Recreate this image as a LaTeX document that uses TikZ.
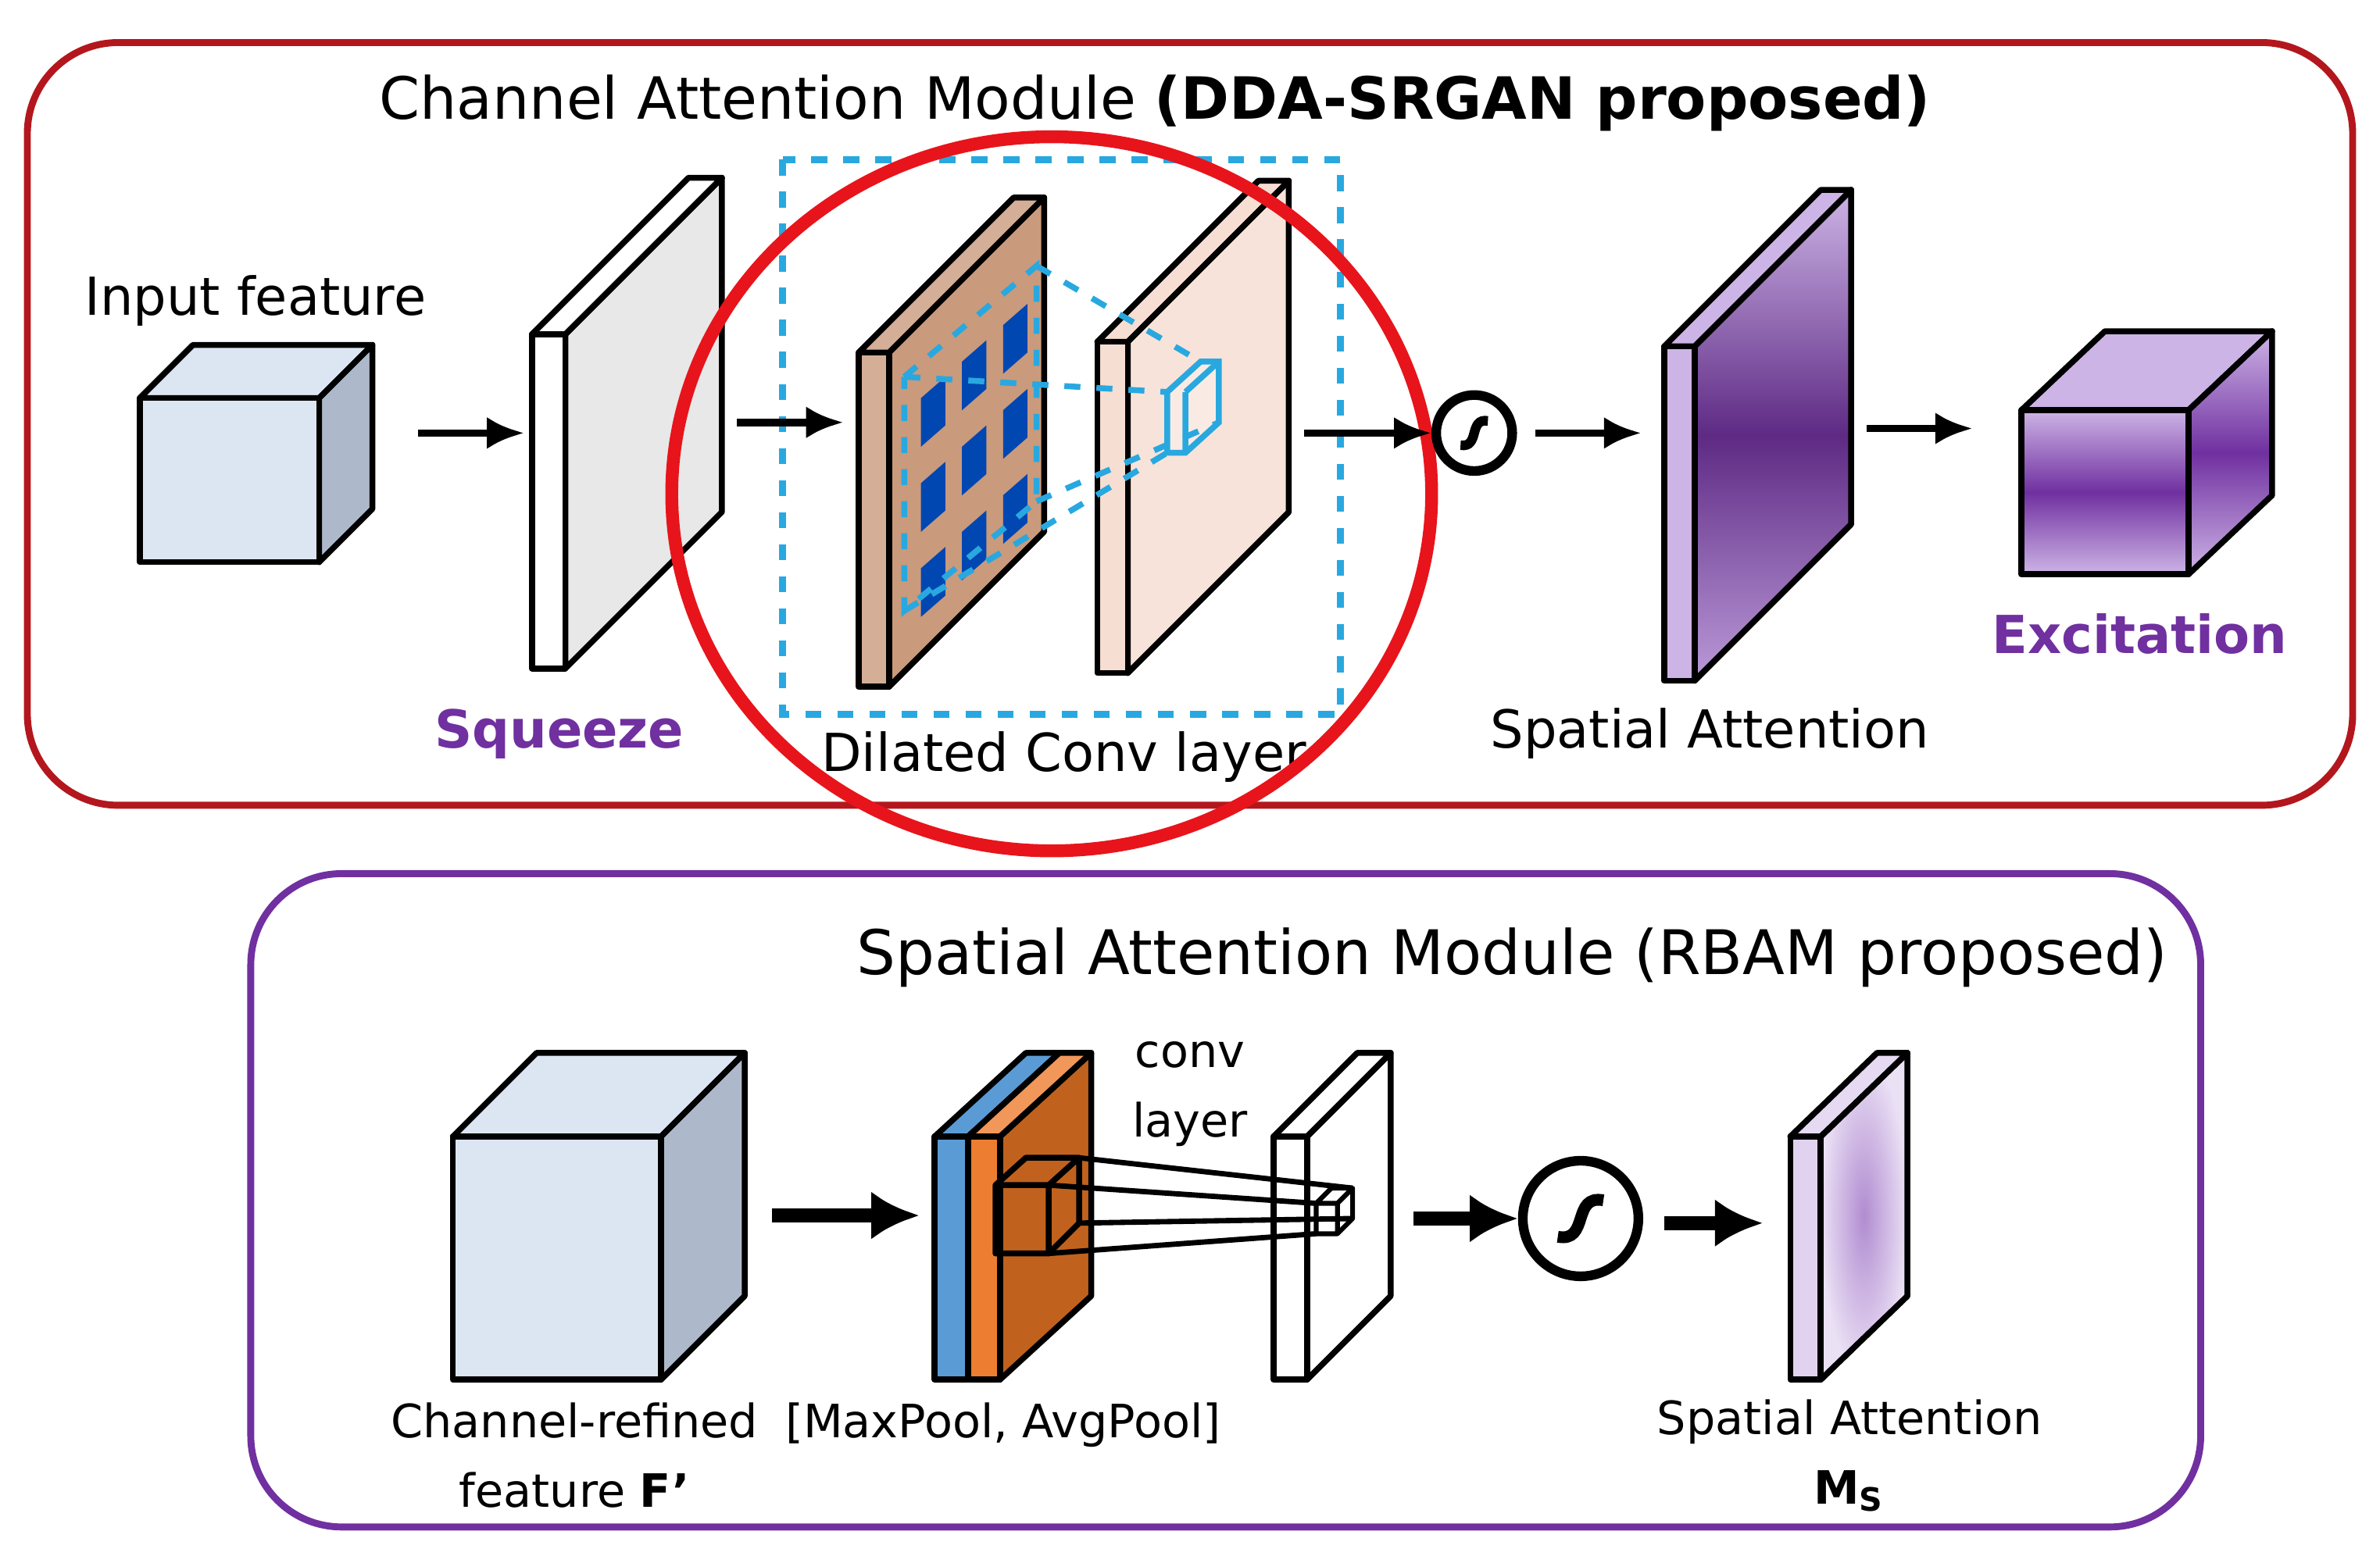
\documentclass[tikz,border=0pt]{standalone}
\usepackage{fontspec}
\setmainfont{DejaVu Sans}
\usepackage{xcolor}
\usetikzlibrary{arrows.meta,positioning,calc}
\definecolor{camred}{HTML}{B3171D}
\definecolor{hired}{HTML}{E8141B}
\definecolor{sampurple}{HTML}{7030A0}
\definecolor{dilblue}{HTML}{29A8E0}
\definecolor{cubeblue}{HTML}{DCE6F2}
\definecolor{cubeside}{HTML}{ADB9CA}
\definecolor{dilbrown}{HTML}{C99A7C}
\definecolor{dilpink}{HTML}{F6DED2}
\definecolor{poolblue}{HTML}{5B9BD5}
\definecolor{poolorange}{HTML}{ED7D31}
\definecolor{poolbrown}{HTML}{C0621E}
\definecolor{lilac}{HTML}{CDB4E6}
\definecolor{deepviolet}{HTML}{5E2A84}

% cube: name, x, ytop, width, height, depth, front, side, top
\newcommand{\featcube}[9]{%
  \draw[solid face, fill=#9] (#2,#3) -- ++(#6,-#6) -- ++(#4,0) -- ++(-#6,#6) -- cycle;
  \draw[solid face, fill=#8] (#2+#4,#3) -- ++(#6,-#6) -- ++(0,#5) -- ++(-#6,#6) -- cycle;
  \draw[solid face, fill=#7] (#2,#3) rectangle ++(#4,#5);
  \coordinate (#1-w) at (#2,#3+#5/2);
  \coordinate (#1-e) at (#2+#4+#6/2,#3+#5/2);
}
% slab: name, x, ytop, strip, height, depth, front, side
\newcommand{\featslab}[8]{%
  \draw[solid face, fill=#8] (#2+#4,#3) -- ++(#6,-#6) -- ++(0,#5) -- ++(-#6,#6) -- cycle;
  \draw[solid face, fill=#7] (#2,#3) -- ++(#6,-#6) -- ++(#4,0) -- ++(-#6,#6) -- cycle;
  \draw[solid face, fill=#7] (#2,#3) rectangle ++(#4,#5);
  \coordinate (#1-w) at (#2,#3+#5/2);
  \coordinate (#1-e) at (#2+#4+#6,#3+#5/2-#6/2);
}

\begin{document}
\begin{tikzpicture}[
    x=0.01cm, y=-0.01cm,
    solid face/.style={draw=black, line width=1.1pt, line join=round},
    flow/.style={-{Latex[length=7pt,width=6pt]}, line width=1.4pt},
    thick flow/.style={-{Latex[length=9pt,width=9pt]}, line width=2.6pt},
    label/.style={font=\fontsize{9.8}{11}\selectfont, inner sep=0pt},
    small label/.style={font=\fontsize{8.6}{10}\selectfont, inner sep=0pt},
    title/.style={font=\fontsize{10.9}{12}\selectfont, inner sep=0pt},
    keyword/.style={label, font=\fontsize{9.8}{11}\selectfont\bfseries, text=sampurple},
    sigmoid/.style={circle, draw=black, line width=1.8pt, minimum size=#1, inner sep=0pt},
  ]
  \useasboundingbox (0,0) rectangle (1566,1024);

  % channel attention module
  \draw[camred, line width=1.3pt, rounded corners=17pt] (18,28) rectangle (1548,530);
  \node[title] (camtitle) at (760,68) {Channel Attention Module \textbf{(DDA-SRGAN proposed)}};

  \featcube{inp}{92}{262}{118}{108}{35}{cubeblue}{cubeside}{cubeblue}
  \node[label] (inplabel) at (168,198) {Input feature};

  \featslab{sqz}{350}{220}{22}{220}{103}{white}{gray!18}
  \node[keyword] (sqzlabel) at (368,483) {Squeeze};

  \draw[dilblue, line width=1.3pt, dashed] (515,105) rectangle (882,470);
  \featslab{dil}{565}{232}{20}{220}{102}{dilbrown!80}{dilbrown}
  \foreach \r in {0,1,2}
    \foreach \c in {0,1,2}
      \fill[fill=blue!60!cyan!70!black]
        (606+\c*27,262+\r*56-\c*24) -- ++(16,-14) -- ++(0,32) -- ++(-16,14) -- cycle;
  \draw[dilblue, line width=1.1pt, dashed] (595,248) -- (682,175) -- (682,330) -- (595,402) -- cycle;
  \featslab{con}{722}{225}{20}{218}{106}{dilpink}{dilpink!85}
  \draw[dilblue, line width=1.1pt, fill=white, fill opacity=0.3] (768,258) -- ++(22,-20) -- ++(12,0) -- ++(0,40) -- ++(-22,20) -- ++(-12,0) -- cycle;
  \draw[dilblue, line width=1.1pt] (780,258) -- ++(0,40) (780,258) -- ++(22,-20);
  \draw[dilblue, line width=1.1pt, dashed] (682,175) -- (790,238) (682,330) -- (802,278)
    (595,248) -- (768,258) (595,402) -- (768,298);
  \node[label] (dillabel) at (700,498) {Dilated Conv layer};
  \draw[hired, line width=2.4pt] (692,325) ellipse (250 and 235);

  \node[sigmoid=0.5cm] (sig) at (970,285) {};
  \draw[line width=1.8pt] ($(sig)+(-9,8)$) .. controls ($(sig)+(4,10)$) and ($(sig)+(-4,-10)$) .. ($(sig)+(9,-8)$);

  \draw[solid face] (1115,228) -- (1218,125) -- (1218,345) -- (1115,448) -- cycle;
  \shade[top color=lilac, bottom color=lilac!80!sampurple, middle color=deepviolet]
    (1115,228) -- (1218,125) -- (1218,345) -- (1115,448) -- cycle;
  \draw[solid face] (1115,228) -- (1218,125) -- (1218,345) -- (1115,448) -- cycle;
  \draw[solid face, fill=lilac] (1095,228) -- (1198,125) -- (1218,125) -- (1115,228) -- cycle;
  \draw[solid face, fill=lilac] (1095,228) rectangle (1115,448);
  \coordinate (sat-w) at (1080,285);
  \coordinate (sat-e) at (1228,282);
  \node[label] (satlabel) at (1125,483) {Spatial Attention};

  \draw[solid face, fill=lilac] (1330,270) -- (1385,218) -- (1495,218) -- (1440,270) -- cycle;
  \shade[top color=lilac, bottom color=lilac, middle color=sampurple] (1440,270) -- (1495,218) -- (1495,326) -- (1440,378) -- cycle;
  \draw[solid face] (1440,270) -- (1495,218) -- (1495,326) -- (1440,378) -- cycle;
  \shade[top color=lilac, bottom color=lilac, middle color=sampurple] (1330,270) rectangle (1440,378);
  \draw[solid face] (1330,270) rectangle (1440,378);
  \coordinate (exc-w) at (1298,282);
  \node[keyword] (exclabel) at (1408,417) {Excitation};

  \coordinate (sqz-in) at (345,285);
  \coordinate (dil-in) at (555,278);
  \coordinate (con-out) at (858,285);
  \draw[flow] (275,285) -- (sqz-in);
  \draw[flow] (485,278) -- (dil-in);
  \draw[flow] (con-out) -- (sig.west);
  \draw[flow] (1010,285) -- (sat-w);
  \draw[flow] (sat-e) -- (exc-w);

  % spatial attention module
  \draw[sampurple, line width=1.3pt, rounded corners=17pt] (165,575) rectangle (1448,1005);
  \node[title, font=\fontsize{11.5}{13}\selectfont] (samtitle) at (995,630) {Spatial Attention Module (RBAM proposed)};

  \featcube{crf}{298}{748}{137}{160}{55}{cubeblue}{cubeside}{cubeblue}
  \node[small label, align=center] (crflabel) at (378,958) {Channel-refined\\[3pt]feature \textbf{F\textquoteright}};

  \draw[solid face, fill=poolbrown] (658,748) -- (718,693) -- (718,853) -- (658,908) -- cycle;
  \draw[solid face, fill=poolblue] (615,748) -- (675,693) -- (697,693) -- (637,748) -- cycle;
  \draw[solid face, fill=poolorange!80] (637,748) -- (697,693) -- (718,693) -- (658,748) -- cycle;
  \draw[solid face, fill=poolblue] (615,748) rectangle (637,908);
  \draw[solid face, fill=poolorange] (637,748) rectangle (658,908);
  \draw[solid face] (655,780) rectangle (690,825) (655,780) -- (675,762) -- (710,762) -- (690,780)
    (710,762) -- (710,805) -- (690,825);
  \node[small label] (poollabel) at (660,938) {[MaxPool, AvgPool]};
  \node[small label, align=center] (convlabel) at (783,720) {conv\\[3pt]layer};

  \featslab{cvl}{838}{748}{22}{160}{55}{white}{white}
  \draw[solid face, line width=0.9pt] (866,792) rectangle (880,812) (866,792) -- (876,782) -- (890,782) -- (880,792)
    (890,782) -- (890,802) -- (880,812);
  \draw[line width=1pt] (690,780) -- (866,792) (710,762) -- (890,782) (690,825) -- (866,812) (710,805) -- (890,802);

  \node[sigmoid=0.76cm] (sig2) at (1040,802) {};
  \draw[line width=2.2pt] ($(sig2)+(-15,12)$) .. controls ($(sig2)+(6,16)$) and ($(sig2)+(-6,-16)$) .. ($(sig2)+(15,-12)$);

  \draw[solid face] (1198,748) -- (1255,693) -- (1255,853) -- (1198,908) -- cycle;
  \shade[inner color=lilac!70!sampurple, outer color=white!60!lilac] (1198,748) -- (1255,693) -- (1255,853) -- (1198,908) -- cycle;
  \draw[solid face] (1198,748) -- (1255,693) -- (1255,853) -- (1198,908) -- cycle;
  \draw[solid face, fill=lilac!50] (1178,748) -- (1235,693) -- (1255,693) -- (1198,748) -- cycle;
  \draw[solid face, fill=lilac!60] (1178,748) rectangle (1198,908);
  \coordinate (msa-w) at (1160,805);
  \node[small label, align=center] (msalabel) at (1217,958) {Spatial Attention\\[3pt]$\mathbf{M}_{\mathbf{S}}$};

  \coordinate (pool-in) at (605,800);
  \draw[thick flow] (508,800) -- (pool-in);
  \draw[thick flow] (930,802) -- (sig2.west);
  \draw[thick flow] (1095,805) -- (msa-w);
\end{tikzpicture}
\end{document}
